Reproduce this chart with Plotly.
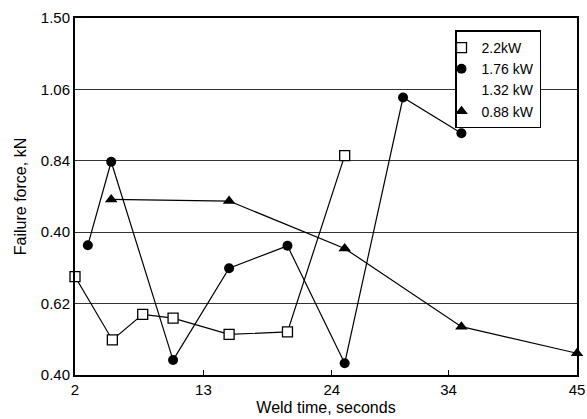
import plotly.graph_objects as go

# 2.2 kW (open squares)
x_22 = [2, 5.2, 7.8, 10.4, 15.2, 20.2, 25.1]
y_22 = [0.703, 0.508, 0.587, 0.575, 0.525, 0.533, 1.076]

# 1.76 kW (filled circles)
x_176 = [3.1, 5.1, 10.4, 15.2, 20.2, 25.1, 30.1, 35.1]
y_176 = [0.800, 1.057, 0.446, 0.729, 0.798, 0.436, 1.255, 1.145]

# 0.88 kW (filled triangles)
x_088 = [5.1, 15.2, 25.1, 35.1, 45]
y_088 = [0.941, 0.936, 0.790, 0.549, 0.467]

x_ticks = [2, 13, 24, 34, 45]
y_tickvals = [0.40, 0.62, 0.84, 1.06, 1.28, 1.50]
y_ticktext = ["0.40", "0.62", "0.40", "0.84", "1.06", "1.50"]

FONT = "Liberation Sans, Arial, sans-serif"

fig = go.Figure()

# 数据曲线（不进图例）
fig.add_trace(go.Scatter(
    x=x_22, y=y_22, mode='lines+markers', showlegend=False, cliponaxis=False,
    line=dict(color='black', width=1.2),
    marker=dict(symbol='square', size=10, color='white', line=dict(color='black', width=1.3))
))
fig.add_trace(go.Scatter(
    x=x_176, y=y_176, mode='lines+markers', showlegend=False, cliponaxis=False,
    line=dict(color='black', width=1.2),
    marker=dict(symbol='circle', size=10, color='black')
))
fig.add_trace(go.Scatter(
    x=x_088, y=y_088, mode='lines+markers', showlegend=False, cliponaxis=False,
    line=dict(color='black', width=1.2),
    marker=dict(symbol='triangle-up', size=11, color='black')
))

# 图例专用（只显示符号）
fig.add_trace(go.Scatter(
    x=[None], y=[None], mode='markers', name='2.2kW',
    marker=dict(symbol='square', size=10, color='white', line=dict(color='black', width=1.3))
))
fig.add_trace(go.Scatter(
    x=[None], y=[None], mode='markers', name='1.76 kW',
    marker=dict(symbol='circle', size=10, color='black')
))
fig.add_trace(go.Scatter(
    x=[None], y=[None], mode='markers', name='1.32 kW',
    marker=dict(symbol='circle', size=10, color='rgba(0,0,0,0)')
))
fig.add_trace(go.Scatter(
    x=[None], y=[None], mode='markers', name='0.88 kW',
    marker=dict(symbol='triangle-up', size=11, color='black')
))

fig.update_layout(
    width=587, height=419,
    margin=dict(l=75, r=10, t=18, b=44),
    paper_bgcolor='white', plot_bgcolor='white',
    font=dict(family=FONT, size=15, color='black'),
    legend=dict(
        x=0.757, y=0.965, xanchor='left', yanchor='top',
        bgcolor='white', bordercolor='black', borderwidth=1.5,
        font=dict(family=FONT, size=14, color='black'),
        itemwidth=30, tracegroupgap=0, indentation=-15,
        entrywidth=82, entrywidthmode='pixels',
    ),
)

fig.update_xaxes(
    range=[2, 45], tickvals=x_ticks, ticks='inside', ticklen=5, tickcolor='black',
    showgrid=False, zeroline=False, showline=True, linecolor='black', linewidth=2,
    mirror=True, automargin=False,
    title=dict(text='Weld time, seconds', standoff=5, font=dict(size=16)),
    tickfont=dict(size=15),
)
fig.update_yaxes(
    range=[0.40, 1.50], tickvals=y_tickvals, ticktext=y_ticktext, ticks='',
    showgrid=True, gridcolor='#333333', gridwidth=1, zeroline=False,
    showline=True, linecolor='black', linewidth=2, mirror=True, automargin=False,
    title=dict(text='Failure force, kN', standoff=10, font=dict(size=16)),
    tickfont=dict(size=15),
)

# 去掉页面默认的 8px 边距，让图正好铺满窗口；隐藏工具栏
fig.write_html(
    "out.html",
    config={'displayModeBar': False},
    post_script="document.body.style.margin='0px';document.body.style.overflow='hidden';",
)
